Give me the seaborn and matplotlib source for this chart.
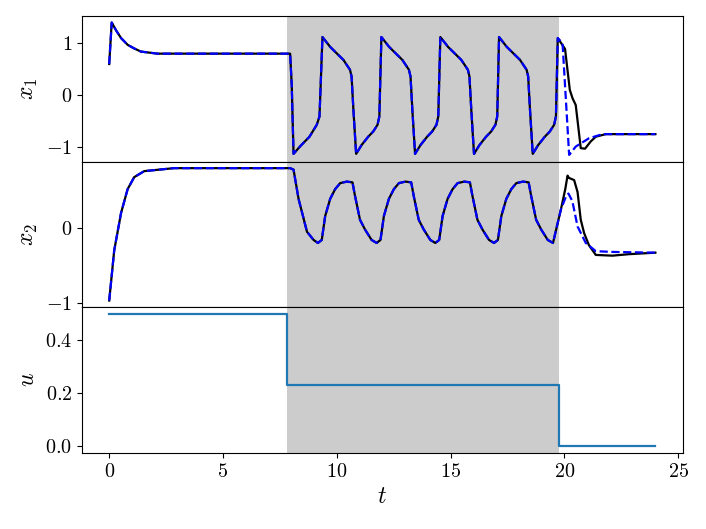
import matplotlib
matplotlib.use("Agg")
import matplotlib.pyplot as plt
import seaborn as sns
import pandas as pd

plt.rcParams["font.family"] = "cmr10"
plt.rcParams["mathtext.fontset"] = "cm"
plt.rcParams["axes.formatter.use_mathtext"] = True

# shaded interval
t_on, t_off = 7.8, 19.75

# x1 trajectory (shared part of true and predicted)
t_x1 = [0, 0.11, 0.3, 0.52, 0.81, 1.1, 1.39, 2.12, 3.0, 7.95, 8.02, 8.10, 8.4, 8.8, 9.12, 9.24, 9.37,
        9.71, 10.29, 10.58, 10.65, 10.73, 10.85, 11.09, 11.38, 11.60, 11.79, 11.87, 11.96,
        12.30, 12.88, 13.17, 13.24, 13.32, 13.44, 13.68, 13.97, 14.19, 14.38, 14.46, 14.55,
        14.89, 15.47, 15.76, 15.83, 15.91, 16.03, 16.27, 16.56, 16.78, 16.97, 17.05, 17.13,
        17.47, 18.05, 18.34, 18.41, 18.49, 18.61, 18.85, 19.14, 19.36, 19.55, 19.63, 19.71]
x1_head = [0.6, 1.40, 1.25, 1.10, 0.97, 0.90, 0.84, 0.80, 0.80, 0.80, 0.2, -1.13, -0.98, -0.80, -0.57, -0.41, 1.12,
           0.93, 0.68, 0.49, 0.36, -0.28, -1.13, -0.96, -0.80, -0.70, -0.57, -0.41, 1.12,
           0.93, 0.68, 0.49, 0.36, -0.28, -1.13, -0.96, -0.80, -0.70, -0.57, -0.41, 1.12,
           0.93, 0.68, 0.49, 0.36, -0.28, -1.13, -0.96, -0.80, -0.70, -0.57, -0.41, 1.12,
           0.93, 0.68, 0.49, 0.36, -0.28, -1.13, -0.96, -0.80, -0.70, -0.57, -0.41, 1.10]
t_x1_true_tail = [20.03, 20.24, 20.36, 20.50, 20.72, 20.91, 21.16, 21.38, 21.82, 24.0]
x1_true_tail = [0.89, 0.10, -0.06, -0.19, -1.02, -1.03, -0.89, -0.80, -0.75, -0.75]
t_x1_pred_tail = [19.92, 20.21, 20.50, 21.08, 21.68, 24.0]
x1_pred_tail = [1.0, -1.15, -0.99, -0.83, -0.75, -0.75]

# x2 trajectory
t_x2 = [0, 0.22, 0.52, 0.81, 1.10, 1.54, 2.85, 7.95, 8.10, 8.32, 8.69, 8.98, 9.17,
        9.34, 9.49, 9.71, 9.93, 10.15, 10.44, 10.69, 10.80, 11.02, 11.24, 11.53, 11.75,
        11.92, 12.07, 12.29, 12.51, 12.73, 13.02, 13.27, 13.38, 13.60, 13.82, 14.11, 14.33,
        14.50, 14.65, 14.87, 15.09, 15.31, 15.60, 15.85, 15.96, 16.18, 16.40, 16.69, 16.91,
        17.08, 17.23, 17.45, 17.67, 17.89, 18.18, 18.43, 18.54, 18.76, 18.98, 19.27, 19.50,
        19.85]
x2_head = [-0.97, -0.30, 0.20, 0.52, 0.68, 0.76, 0.80, 0.80, 0.78, 0.39, -0.05, -0.16, -0.20,
           -0.16, 0.16, 0.39, 0.52, 0.60, 0.62, 0.61, 0.43, 0.11, -0.02, -0.16, -0.20,
           -0.16, 0.16, 0.39, 0.52, 0.60, 0.62, 0.61, 0.43, 0.11, -0.02, -0.16, -0.20,
           -0.16, 0.16, 0.39, 0.52, 0.60, 0.62, 0.61, 0.43, 0.11, -0.02, -0.16, -0.20,
           -0.16, 0.16, 0.39, 0.52, 0.60, 0.62, 0.61, 0.43, 0.11, -0.02, -0.16, -0.20,
           0.25]
t_x2_true_tail = [20.04, 20.14, 20.20, 20.43, 20.58, 20.72, 20.87, 21.08, 21.38, 22.11, 22.84, 24.0]
x2_true_tail = [0.52, 0.70, 0.67, 0.64, 0.48, 0.11, -0.07, -0.23, -0.36, -0.37, -0.35, -0.33]
t_x2_pred_tail = [20.07, 20.18, 20.35, 20.58, 20.94, 21.38, 22.11, 24.0]
x2_pred_tail = [0.42, 0.46, 0.36, 0.02, -0.20, -0.31, -0.32, -0.33]

# input
t_u = [0, 7.8, 19.75, 24]
u_vals = [0.5, 0.23, 0.0, 0.0]

x1_true = pd.DataFrame({"t": t_x1 + t_x1_true_tail, "v": x1_head + x1_true_tail})
x1_pred = pd.DataFrame({"t": t_x1 + t_x1_pred_tail, "v": x1_head + x1_pred_tail})
x2_true = pd.DataFrame({"t": t_x2 + t_x2_true_tail, "v": x2_head + x2_true_tail})
x2_pred = pd.DataFrame({"t": t_x2 + t_x2_pred_tail, "v": x2_head + x2_pred_tail})
u_df = pd.DataFrame({"t": t_u, "u": u_vals})

fig, axes = plt.subplots(3, 1, sharex=True, figsize=(7.06, 5.29), dpi=100)
fig.subplots_adjust(left=0.116, right=0.967, top=0.970, bottom=0.144, hspace=0)

for ax in axes:
    ax.axvspan(t_on, t_off, color="k", alpha=0.2, lw=0)

sns.lineplot(data=x1_true, x="t", y="v", ax=axes[0], color="k", lw=1.6, sort=False)
sns.lineplot(data=x1_pred, x="t", y="v", ax=axes[0], color="b", lw=1.6, ls="--", sort=False)
sns.lineplot(data=x2_true, x="t", y="v", ax=axes[1], color="k", lw=1.6, sort=False)
sns.lineplot(data=x2_pred, x="t", y="v", ax=axes[1], color="b", lw=1.6, ls="--", sort=False)
sns.lineplot(data=u_df, x="t", y="u", ax=axes[2], color="tab:blue", lw=1.6,
             drawstyle="steps-post", sort=False)

axes[0].set_yticks([-1, 0, 1])
axes[1].set_yticks([-1, 0])
axes[2].set_yticks([0.0, 0.2, 0.4])
axes[2].set_xticks([0, 5, 10, 15, 20, 25])

axes[0].set_ylabel(r"$x_1$", fontsize=17)
axes[1].set_ylabel(r"$x_2$", fontsize=17)
axes[2].set_ylabel(r"$u$", fontsize=17)
axes[2].set_xlabel(r"$t$", fontsize=17)
for ax in axes:
    ax.tick_params(labelsize=14.5)

fig.savefig("out.png", dpi=100)
